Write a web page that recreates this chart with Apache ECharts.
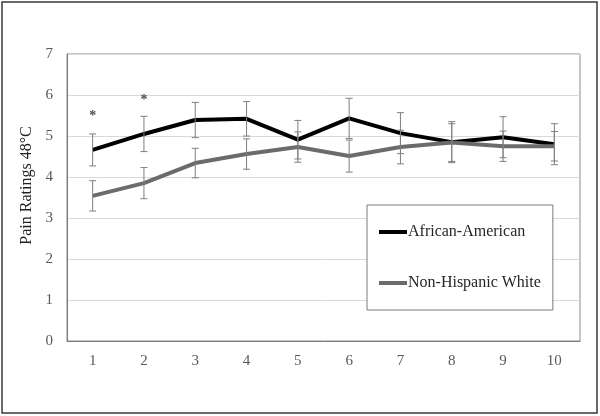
<!DOCTYPE html>
<html>
<head>
<meta charset="utf-8">
<script src="https://cdn.jsdelivr.net/npm/echarts@6/dist/echarts.min.js"></script>
<style>html,body{margin:0;padding:0;background:#fff}#c{width:600px;height:416px}</style>
</head>
<body>
<div id="c"></div>
<script>
const categories = ['1','2','3','4','5','6','7','8','9','10'];
const yTicks = [0,1,2,3,4,5,6,7];
const aaMean = [4.66, 5.05, 5.39, 5.42, 4.91, 5.43, 5.07, 4.85, 4.97, 4.80];
const aaErr  = [0.39, 0.43, 0.43, 0.42, 0.47, 0.49, 0.50, 0.50, 0.50, 0.50];
const nhwMean = [3.54, 3.85, 4.34, 4.56, 4.73, 4.51, 4.73, 4.84, 4.75, 4.75];
const nhwErr  = [0.37, 0.38, 0.36, 0.37, 0.37, 0.39, 0.41, 0.46, 0.37, 0.36];
const starCats = ['1','2'];
const starVals = [5.54, 5.95];

const chart = echarts.init(document.getElementById('c'), null, {renderer:'canvas'});
const serif = '"Liberation Serif", "Times New Roman", serif';

function errData(mean, err){ return mean.map((m,i)=>[i, m-err[i], m+err[i]]); }
function errSeries(mean, err, name){
  return {
    type:'custom', name: name, z: 5, silent:true,
    data: errData(mean, err),
    renderItem: function(params, api){
      const x = api.value(0);
      const lo = api.coord([x, api.value(1)]);
      const hi = api.coord([x, api.value(2)]);
      const w = 3.5;
      const st = {stroke:'#7f7f7f', lineWidth:1};
      return {type:'group', children:[
        {type:'line', shape:{x1:lo[0],y1:lo[1],x2:hi[0],y2:hi[1]}, style:st},
        {type:'line', shape:{x1:lo[0]-w,y1:lo[1],x2:lo[0]+w,y2:lo[1]}, style:st},
        {type:'line', shape:{x1:hi[0]-w,y1:hi[1],x2:hi[0]+w,y2:hi[1]}, style:st}
      ]};
    }
  };
}

chart.setOption({
  animation:false,
  textStyle:{fontFamily:serif},
  graphic:[{type:'rect', shape:{x:2,y:2,width:595,height:411}, style:{fill:'none', stroke:'#3a3a3a', lineWidth:1.5}, z:-1}],
  grid:{left:67, right:20, top:54, bottom:75, show:true, borderColor:'#8c8c8c', borderWidth:1, containLabel:false},
  legend:{
    orient:'vertical', left:367, top:205,
    padding:[19, 12, 19, 12],
    borderColor:'#7a7a7a', borderWidth:1, backgroundColor:'#fff',
    itemWidth:28, itemHeight:4, itemGap:35,
    icon:'rect',
    textStyle:{fontFamily:serif, fontSize:16, color:'#262626', padding:[0,0,0,-4]},
    data:['African-American','Non-Hispanic White']
  },
  xAxis:{
    type:'category', data:categories, boundaryGap:true,
    axisLine:{lineStyle:{color:'#7a7a7a'}},
    axisTick:{show:false},
    axisLabel:{fontFamily:serif, fontSize:15, color:'#595959', margin:13},
    splitLine:{show:false}
  },
  yAxis:{
    type:'value', min:yTicks[0], max:yTicks[yTicks.length-1], interval:1,
    name:'Pain Ratings 48°C', nameLocation:'middle', nameGap:27,
    nameTextStyle:{fontFamily:serif, fontSize:16, color:'#222', padding:[0,0,0,24]},
    axisLine:{show:true, lineStyle:{color:'#7a7a7a'}},
    axisTick:{show:false},
    axisLabel:{fontFamily:serif, fontSize:15, color:'#595959', margin:14},
    splitLine:{lineStyle:{color:'#d9d9d9'}}
  },
  series:[
    {name:'African-American', type:'line', data:aaMean, symbol:'none', lineStyle:{color:'#000', width:4}, itemStyle:{color:'#000'}, z:3},
    {name:'Non-Hispanic White', type:'line', data:nhwMean, symbol:'none', lineStyle:{color:'#6b6b6b', width:4}, itemStyle:{color:'#6b6b6b'}, z:3},
    errSeries(aaMean, aaErr, 'aaErr'),
    errSeries(nhwMean, nhwErr, 'nhwErr'),
    {type:'scatter', name:'sig', data:starCats.map((c,i)=>[c, starVals[i]]), symbolSize:0,
     label:{show:true, position:'inside', formatter:'*', fontFamily:serif, fontSize:14, color:'#222', fontWeight:'bold', offset:[0,3]}, silent:true}
  ]
});
</script>
</body>
</html>
